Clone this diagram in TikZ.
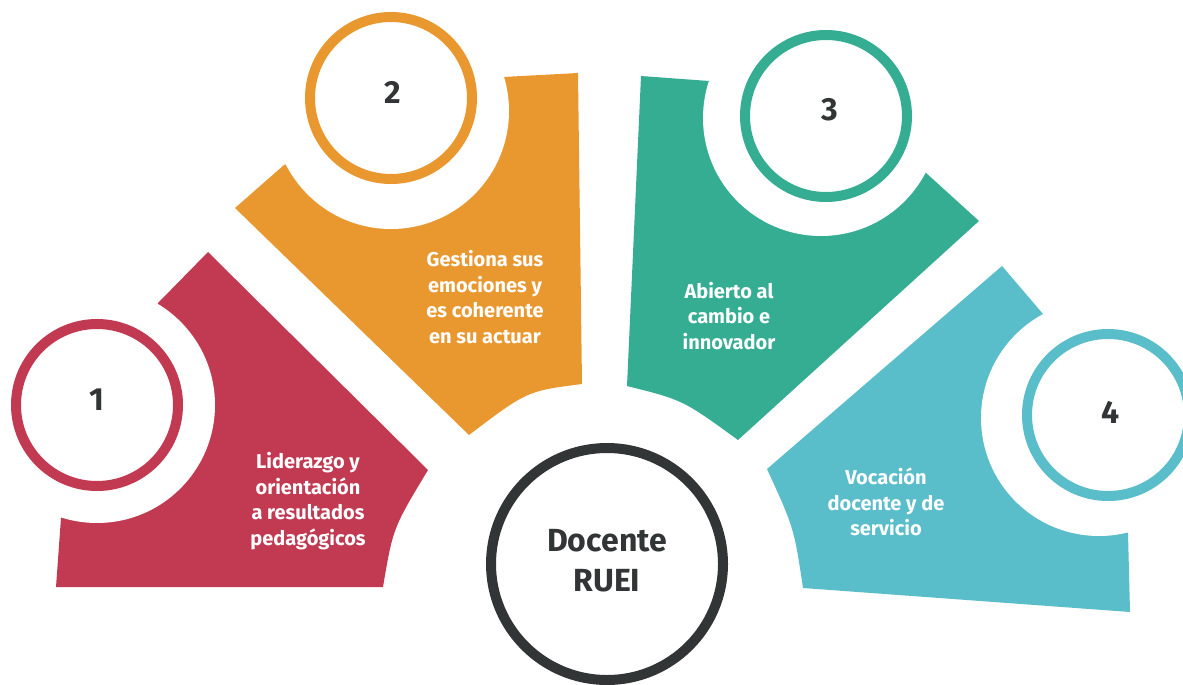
\documentclass[tikz,border=0pt]{standalone}
\usepackage{fontspec}
\setmainfont{Fira Sans}
\definecolor{cred}{HTML}{C13A52}
\definecolor{corange}{HTML}{E8982F}
\definecolor{cteal}{HTML}{35AD92}
\definecolor{cblue}{HTML}{5ABDCA}
\definecolor{cdark}{HTML}{323536}
\begin{document}
\begin{tikzpicture}[x=1pt,y=-1pt,
  ring/.style={circle, draw, line width=10pt, minimum size=162pt, inner sep=0pt, fill=white},
  num/.style={font=\fontsize{32}{32}\selectfont\bfseries, text=cdark, inner sep=0pt},
  lbl/.style={font=\fontsize{20}{25.7}\selectfont\bfseries, text=white, align=center, inner sep=0pt},
  bite/.style={fill=white}]
\useasboundingbox (0,0) rectangle (1183,685);
% sectors
\fill[cred] (56,587) -- (61,518) -- (158,303) -- (208,252) -- (428,470) .. controls (393,528) .. (383,587) -- cycle;
\fill[corange] (235,208) -- (284,165) -- (503,77) -- (578,73) -- (582,384) .. controls (527,391) .. (469,435) -- cycle;
\fill[cteal] (641,76) -- (709,81) -- (925,172) -- (979,221) -- (738,440) .. controls (683,400) .. (627,386) -- cycle;
\fill[cblue] (1002,266) -- (1043,314) -- (1128,533) -- (1130,612) -- (803,588) .. controls (794,528) .. (767,469) -- cycle;
% bites
\fill[bite] (97,405) circle[radius=118pt];
\fill[bite] (391,111) circle[radius=118pt];
\fill[bite] (821,118) circle[radius=118pt];
\fill[bite] (1099,418) circle[radius=118pt];
% rings
\node[ring, draw=cred] (r1) at (97,405) {};
\node[ring, draw=corange] (r2) at (391,98) {};
\node[ring, draw=cteal] (r3) at (826,116) {};
\node[ring, draw=cblue] (r4) at (1108,415) {};
\node[num] (n1) at (97,400) {1};
\node[num] (n2) at (393,92) {2};
\node[num] (n3) at (830,110) {3};
\node[num] (n4) at (1111,412) {4};
% center
\node[ring, draw=cdark, minimum size=232pt] (core) at (607,564) {};
\node[font=\fontsize{32}{40}\selectfont\bfseries, text=cdark, align=center, inner sep=0pt] (coret) at (607,561) {Docente\\RUEI};
% labels
\node[lbl] (t1) at (308,501) {Liderazgo y\\orientación\\a resultados\\pedagógicos};
\node[lbl] (t2) at (485,297) {Gestiona sus\\emociones y\\es coherente\\en su actuar};
\node[lbl] (t3) at (729,316) {Abierto al\\cambio e\\innovador};
\node[lbl] (t4) at (886,502) {Vocación\\docente y de\\servicio};
\end{tikzpicture}
\end{document}
